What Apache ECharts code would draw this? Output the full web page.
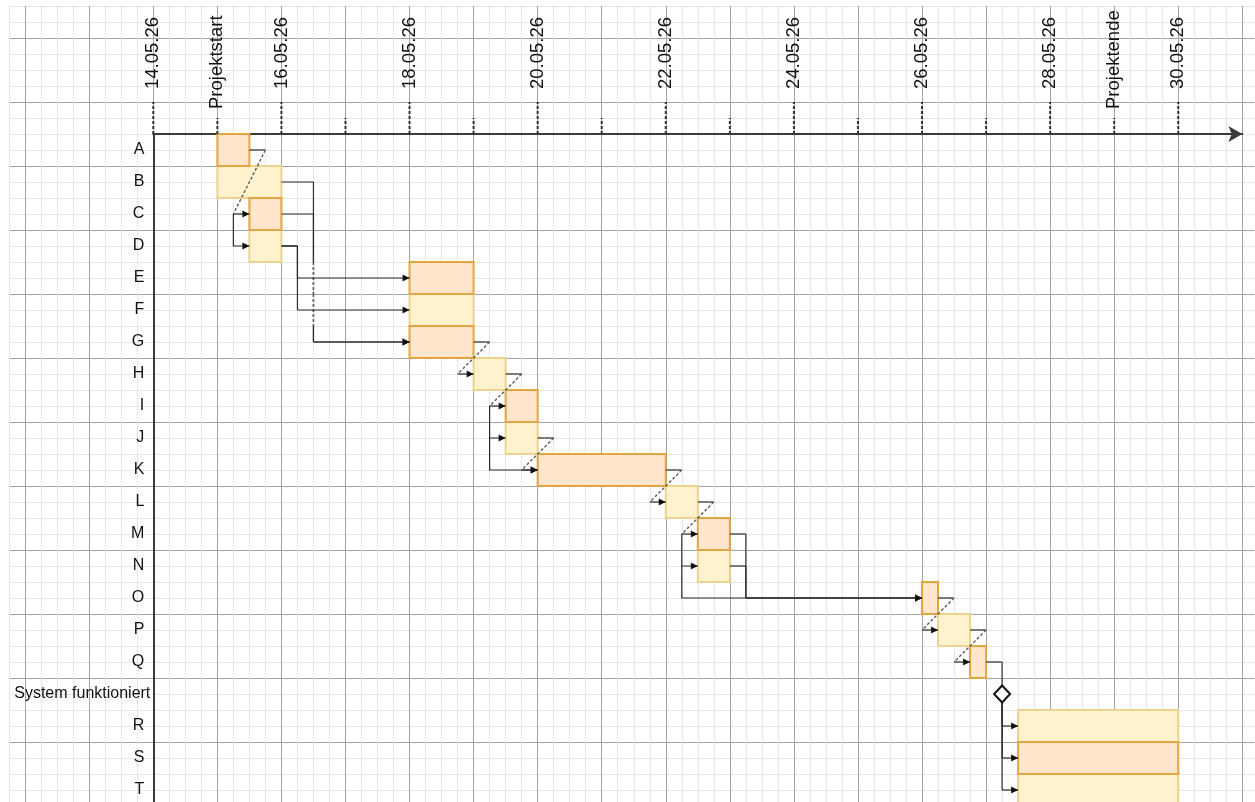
<!DOCTYPE html>
<html>
<head>
<meta charset="utf-8">
<script src="https://cdn.jsdelivr.net/npm/echarts@6/dist/echarts.min.js"></script>
<style>
html,body{margin:0;padding:0;background:#ffffff;}
#chart{width:1255px;height:802px;}
</style>
</head>
<body>
<div id="chart"></div>
<script>
// ---------------- DATA ----------------
// Rows (top to bottom)
const taskNames = ['A','B','C','D','E','F','G','H','I','J','K','L','M','N','O','P','Q','System funktioniert','R','S','T'];
const taskType  = ['task','task','task','task','task','task','task','task','task','task','task','task','task','task','task','task','task','milestone','task','task','task'];
// Start / end expressed as day of May 2026 (fractions = part of a day)
const taskStart = [15, 15, 15.5, 15.5, 18, 18, 18, 19, 19.5, 19.5, 20, 22, 22.5, 22.5, 26, 26.25, 26.75, 27.25, 27.5, 27.5, 27.5];
const taskEnd   = [15.5, 16, 16, 16, 19, 19, 19, 19.5, 20, 20, 22, 22.5, 23, 23, 26.25, 26.75, 27, 27.25, 30, 30, 30];

// Time axis ticks (day of May 2026) and their labels
const tickDays   = [14, 15, 16, 17, 18, 19, 20, 21, 22, 23, 24, 25, 26, 27, 28, 29, 30];
const tickLabels = ['14.05.26','Projektstart','16.05.26','','18.05.26','','20.05.26','','22.05.26','','24.05.26','','26.05.26','','28.05.26','Projektende','30.05.26'];

// Dependencies: predecessor -> successor
const linkFrom = ['A','A','B','C','D','D','G','H','H','H','J','K','L','L','L','M','N','O','P','Q','System funktioniert','System funktioniert','System funktioniert'];
const linkTo   = ['C','D','G','G','E','F','H','I','J','K','K','L','M','N','O','O','O','P','Q','System funktioniert','R','S','T'];
// routing kind: 'diag' = step with dashed diagonal, 'drop' = branch from previous lane, 'elbow' = right-down-right
const linkKind = ['diag','drop','elbow','elbow','elbow','elbow','diag','diag','drop','drop','diag','diag','diag','drop','drop','elbow','elbow','diag','diag','elbow','elbow','elbow','elbow'];
// lane distance (in days) after the predecessor's end, for elbow links
const linkLane = [0,0,0.5,0.5,0.25,0.25,0,0,0,0,0,0,0,0,0,0.25,0.25,0,0,0.25,0,0,0];

// ---------------- LAYOUT / STYLE ----------------
const FONT = "'Liberation Sans', Arial, Helvetica, sans-serif";
const DAY_PX = 64.06;
const ROW_PX = 32;
const AXIS_LEFT = 153.3;
const AXIS_TOP = 134;
const X_MIN = 14;
const X_MAX = 31;
const STEP = 0.25;      // connector offset in days
const FINE = '#e6e6e6';
const MAJOR = '#a3a3a3';
const LINE = '#2b2b2b';

const idx = name => taskNames.indexOf(name);

// ---------------- ROUTES (in data units: [day,row]) ----------------
function baseRoute(k) {
  const f = idx(linkFrom[k]), t = idx(linkTo[k]);
  const kind = linkKind[k];
  const toTask = taskType[t] === 'task';
  const r = {solid: [], dashed: [], arrow: null, horiz: [], vert: null};
  if (kind === 'diag') {
    const a = taskEnd[f] + STEP, b = taskStart[t] - STEP;
    r.solid.push([[taskEnd[f], f], [a, f]]);
    r.dashed.push([[a, f], [b, t]]);
    r.solid.push([[b, t], [taskStart[t], t]]);
    r.arrow = [taskStart[t], t];
    r.horiz.push([f, taskEnd[f], a], [t, b, taskStart[t]]);
  } else if (kind === 'drop') {
    const lane = taskEnd[f] - STEP;
    r.solid.push([[lane, t - 1], [lane, t], [taskStart[t], t]]);
    r.arrow = [taskStart[t], t];
    r.horiz.push([t, lane, taskStart[t]]);
  } else {
    const lane = taskEnd[f] + linkLane[k];
    const endX = toTask ? taskStart[t] : lane;
    r.solid.push([[taskEnd[f], f], [lane, f]]);
    r.vert = {lane: lane, r1: f, r2: t};
    r.solid.push([[lane, t], [endX, t]]);
    if (toTask) r.arrow = [taskStart[t], t];
    r.horiz.push([f, taskEnd[f], lane], [t, lane, endX]);
  }
  return r;
}
const routes = linkFrom.map((_, k) => baseRoute(k));
// vertical lanes: dashed where they cross other connectors' horizontals
routes.forEach((r, k) => {
  if (!r.vert) return;
  const {lane, r1, r2} = r.vert;
  const crossRows = new Set();
  routes.forEach((o, j) => {
    if (j === k) return;
    o.horiz.forEach(h => {
      const lo = Math.min(h[1], h[2]), hi = Math.max(h[1], h[2]);
      if (h[0] > r1 && h[0] < r2 && lo < lane - 1e-6 && hi > lane + 1e-6) crossRows.add(h[0]);
    });
  });
  let cur = r1;
  const rows = [...crossRows].sort((a, b) => a - b);
  rows.forEach(row => {
    if (row - 0.5 > cur) r.solid.push([[lane, cur], [lane, row - 0.5]]);
    r.dashed.push([[lane, row - 0.5], [lane, row + 0.5]]);
    cur = row + 0.5;
  });
  if (r2 > cur) r.solid.push([[lane, cur], [lane, r2]]);
});

// ---------------- RENDERERS ----------------
function yOf(api, row) {
  return api.coord([X_MIN, 0])[1] + row * api.size([0, 1])[1];
}
function xOf(api, day) {
  return api.coord([day, 0])[0];
}
function toPx(api, p) { return [xOf(api, p[0]), yOf(api, p[1])]; }

const barTasks = taskNames.map((_, i) => i).filter(i => taskType[i] === 'task');
const milestoneTasks = taskNames.map((_, i) => i).filter(i => taskType[i] === 'milestone');

function renderBar(params, api) {
  const i = params.dataIndex;
  const t = barTasks[i];
  const p0 = api.coord([taskStart[t], t]);
  const p1 = api.coord([taskEnd[t], t]);
  const h = api.size([0, 1])[1];
  const peach = i % 2 === 0;
  return {
    type: 'rect',
    z2: peach ? 2 : 1,
    shape: {x: p0[0], y: p0[1] - h / 2, width: p1[0] - p0[0], height: h},
    style: {fill: peach ? '#ffe6cc' : '#fff2cc', stroke: peach ? '#e2a53f' : '#ecd390', lineWidth: 2}
  };
}

function renderLink(params, api) {
  const r = routes[params.dataIndex];
  const children = [];
  r.solid.forEach(seg => {
    children.push({type: 'polyline', shape: {points: seg.map(p => toPx(api, p))},
      style: {stroke: LINE, lineWidth: 1.2, fill: null}});
  });
  r.dashed.forEach(seg => {
    children.push({type: 'polyline', shape: {points: seg.map(p => toPx(api, p))},
      style: {stroke: '#5f5f5f', lineWidth: 1.4, lineDash: [3, 2], fill: null}});
  });
  if (r.arrow) {
    const q = toPx(api, r.arrow);
    children.push({type: 'polygon', shape: {points: [[q[0], q[1]], [q[0] - 7, q[1] - 3.5], [q[0] - 7, q[1] + 3.5]]},
      style: {fill: '#111111'}});
  }
  return {type: 'group', children: children};
}

function renderMilestone(params, api) {
  const t = milestoneTasks[params.dataIndex];
  const c = api.coord([taskStart[t], t]);
  return {type: 'polygon',
    shape: {points: [[c[0], c[1] - 8.5], [c[0] + 8, c[1]], [c[0], c[1] + 8.5], [c[0] - 8, c[1]]]},
    style: {fill: '#ffffff', stroke: '#111111', lineWidth: 2}};
}

function renderTick(params, api) {
  const i = params.dataIndex;
  const label = tickLabels[i];
  const x = xOf(api, tickDays[i]);
  const top = yOf(api, -0.5);
  const isDate = /\d/.test(label);
  const len = isDate ? 32 : 16;
  const children = [{type: 'line', shape: {x1: x, y1: top, x2: x, y2: top - len},
    style: {stroke: '#333333', lineWidth: 2, lineDash: [3, 2]}}];
  if (label) {
    children.push({type: 'text', x: x, y: top - len - (isDate ? 13 : 9), rotation: Math.PI / 2,
      style: {text: label, x: 0, y: 0, align: 'left', verticalAlign: 'middle',
        fontSize: 18.5, fontFamily: FONT, fill: '#111111'}});
  }
  return {type: 'group', children: children};
}

// ---------------- OPTION ----------------
const chart = echarts.init(document.getElementById('chart'), null, {renderer: 'canvas'});
const option = {
  animation: false,
  backgroundColor: '#ffffff',
  textStyle: {fontFamily: FONT},
  grid: [
    {left: AXIS_LEFT - 9 * 16.015, top: AXIS_TOP - 8 * 16, width: DAY_PX * 19.44, height: 796,
      show: false, outerBoundsMode: 'none', containLabel: false},
    {left: AXIS_LEFT, top: AXIS_TOP, width: DAY_PX * (X_MAX - X_MIN), height: ROW_PX * taskNames.length,
      show: false, outerBoundsMode: 'none', containLabel: false}
  ],
  xAxis: [
    {gridIndex: 0, type: 'value', min: 11.75, max: 31.19, interval: 0.25, silent: true,
      axisLine: {show: false}, axisTick: {show: false}, axisLabel: {show: false},
      splitLine: {show: true, showMaxLine: false, lineStyle: {color: [FINE, MAJOR, FINE, FINE], width: 1}}},
    {gridIndex: 1, type: 'value', position: 'top', min: X_MIN, max: X_MAX, silent: true,
      axisLine: {show: true, onZero: false, symbol: ['none', 'arrow'], symbolSize: [12, 14],
        lineStyle: {color: '#3a3a3a', width: 2}},
      axisTick: {show: false}, axisLabel: {show: false}, splitLine: {show: false}}
  ],
  yAxis: [
    {gridIndex: 0, type: 'value', inverse: true, min: -4, max: 20.875, interval: 0.5, silent: true,
      axisLine: {show: false}, axisTick: {show: false}, axisLabel: {show: false},
      splitLine: {show: true, showMaxLine: false, lineStyle: {color: [FINE, FINE, MAJOR, FINE], width: 1}}},
    {gridIndex: 1, type: 'category', data: taskNames, inverse: true, silent: true,
      axisLine: {show: true, onZero: false, lineStyle: {color: '#3a3a3a', width: 2}},
      axisTick: {show: false}, splitLine: {show: false},
      axisLabel: {show: true, margin: 3, color: '#111111', fontSize: 16, fontFamily: FONT,
        formatter: v => (v.length === 1 ? '{l|' + v + '}' : '{s|' + v + '}'),
        rich: {l: {fontSize: 16, fontFamily: FONT, color: '#111111', padding: [0, 6, 0, 0]},
               s: {fontSize: 16, fontFamily: FONT, color: '#111111'}}}}
  ],
  series: [
    {type: 'custom', name: 'bars', xAxisIndex: 1, yAxisIndex: 1, clip: false, z: 2,
      encode: {x: [0, 2], y: 1},
      data: barTasks.map(t => [taskStart[t], t, taskEnd[t]]),
      renderItem: renderBar},
    {type: 'custom', name: 'links', xAxisIndex: 1, yAxisIndex: 1, clip: false, z: 3,
      encode: {x: 0, y: 1},
      data: linkFrom.map(n => [taskEnd[idx(n)], idx(n)]),
      renderItem: renderLink},
    {type: 'custom', name: 'milestones', xAxisIndex: 1, yAxisIndex: 1, clip: false, z: 4,
      encode: {x: 0, y: 1},
      data: milestoneTasks.map(i => [taskStart[i], i]),
      renderItem: renderMilestone},
    {type: 'custom', name: 'ticks', xAxisIndex: 1, yAxisIndex: 1, clip: false, z: 3,
      encode: {x: 0, y: 1},
      data: tickDays.map(d => [d, 0]),
      renderItem: renderTick}
  ]
};
chart.setOption(option);
</script>
</body>
</html>
